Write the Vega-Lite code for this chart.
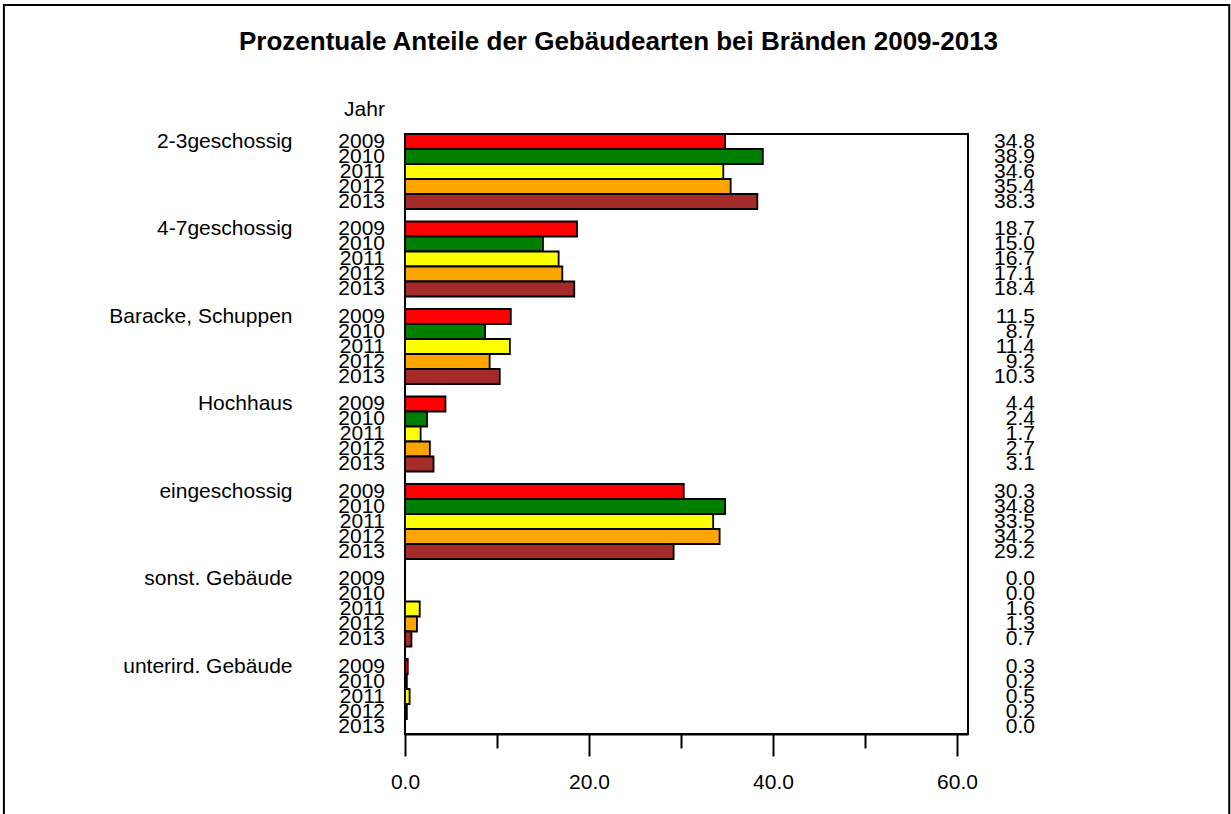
{
  "$schema": "https://vega.github.io/schema/vega-lite/v6.json",
  "autosize": {"type": "none"},
  "padding": {"left": 405, "top": 134, "right": 263, "bottom": 80},
  "width": 563,
  "height": 600,
  "background": "white",
  "config": {
    "font": "Liberation Sans",
    "view": {"stroke": "black", "strokeWidth": 2},
    "text": {"font": "Liberation Sans"}
  },
  "title": {
    "text": "Prozentuale Anteile der Gebäudearten bei Bränden 2009-2013",
    "font": "Liberation Sans",
    "fontSize": 26,
    "fontWeight": "bold",
    "color": "black",
    "anchor": "middle",
    "frame": "group",
    "baseline": "middle",
    "dx": -68,
    "offset": -64
  },
  "datasets": {
    "main": [
      {"g": "2-3geschossig", "year": "2009", "v": 34.8},
      {"g": "2-3geschossig", "year": "2010", "v": 38.9},
      {"g": "2-3geschossig", "year": "2011", "v": 34.6},
      {"g": "2-3geschossig", "year": "2012", "v": 35.4},
      {"g": "2-3geschossig", "year": "2013", "v": 38.3},
      {"g": "4-7geschossig", "year": "2009", "v": 18.7},
      {"g": "4-7geschossig", "year": "2010", "v": 15.0},
      {"g": "4-7geschossig", "year": "2011", "v": 16.7},
      {"g": "4-7geschossig", "year": "2012", "v": 17.1},
      {"g": "4-7geschossig", "year": "2013", "v": 18.4},
      {"g": "Baracke, Schuppen", "year": "2009", "v": 11.5},
      {"g": "Baracke, Schuppen", "year": "2010", "v": 8.7},
      {"g": "Baracke, Schuppen", "year": "2011", "v": 11.4},
      {"g": "Baracke, Schuppen", "year": "2012", "v": 9.2},
      {"g": "Baracke, Schuppen", "year": "2013", "v": 10.3},
      {"g": "Hochhaus", "year": "2009", "v": 4.4},
      {"g": "Hochhaus", "year": "2010", "v": 2.4},
      {"g": "Hochhaus", "year": "2011", "v": 1.7},
      {"g": "Hochhaus", "year": "2012", "v": 2.7},
      {"g": "Hochhaus", "year": "2013", "v": 3.1},
      {"g": "eingeschossig", "year": "2009", "v": 30.3},
      {"g": "eingeschossig", "year": "2010", "v": 34.8},
      {"g": "eingeschossig", "year": "2011", "v": 33.5},
      {"g": "eingeschossig", "year": "2012", "v": 34.2},
      {"g": "eingeschossig", "year": "2013", "v": 29.2},
      {"g": "sonst. Gebäude", "year": "2009", "v": 0.0},
      {"g": "sonst. Gebäude", "year": "2010", "v": 0.0},
      {"g": "sonst. Gebäude", "year": "2011", "v": 1.6},
      {"g": "sonst. Gebäude", "year": "2012", "v": 1.3},
      {"g": "sonst. Gebäude", "year": "2013", "v": 0.7},
      {"g": "unterird. Gebäude", "year": "2009", "v": 0.3},
      {"g": "unterird. Gebäude", "year": "2010", "v": 0.2},
      {"g": "unterird. Gebäude", "year": "2011", "v": 0.5},
      {"g": "unterird. Gebäude", "year": "2012", "v": 0.2},
      {"g": "unterird. Gebäude", "year": "2013", "v": 0.0}
    ]
  },
  "resolve": {"scale": {"y": "independent"}},
  "layer": [
    {
      "data": {"values": [{"frame": "outer"}]},
      "mark": {"type": "rect", "fill": null, "stroke": "black", "strokeWidth": 2},
      "encoding": {
        "x": {"datum": -43.6, "type": "quantitative", "scale": {"domain": [0, 61.2], "nice": false, "zero": false}},
        "x2": {"datum": 89.6},
        "y": {"datum": 729, "type": "quantitative", "scale": {"domain": [0, 600], "nice": false, "zero": false}, "axis": null},
        "y2": {"datum": -90}
      }
    },
    {
      "data": {"name": "main"},
      "layer": [
        {
          "mark": {"type": "bar", "stroke": "black", "strokeWidth": 1.8},
          "encoding": {
            "x": {
              "field": "v", "type": "quantitative",
              "scale": {"domain": [0, 61.2], "nice": false, "zero": false},
              "axis": {
                "values": [0, 10, 20, 30, 40, 50, 60],
                "labelExpr": "datum.value % 20 === 0 ? format(datum.value, '.1f') : ''",
                "tickSize": {"condition": {"test": "datum.value % 20 === 0", "value": 22}, "value": 14},
                "tickWidth": 2,
                "tickColor": "black",
                "domainColor": "black",
                "domainWidth": 2,
                "labelFontSize": 21,
                "labelColor": "black",
                "labelPadding": 15,
                "labelFlush": false,
                "labelOverlap": false,
                "grid": false,
                "title": null
              }
            },
            "y": {
              "field": "g", "type": "nominal",
              "sort": ["2-3geschossig", "4-7geschossig", "Baracke, Schuppen", "Hochhaus", "eingeschossig", "sonst. Gebäude", "unterird. Gebäude"],
              "scale": {"paddingInner": 0.142857, "paddingOuter": 0},
              "axis": {
                "title": "Jahr", "titleAngle": 0, "titleX": -41, "titleY": -25,
                "titleAlign": "center", "titleBaseline": "middle",
                "titleFontSize": 21, "titleFontWeight": "normal", "titleColor": "black",
                "labelFontSize": 21, "labelColor": "black", "labelOffset": -30,
                "labelPadding": 113, "ticks": false, "domain": false,
                "labelAlign": "right", "labelBaseline": "middle", "labelLimit": 300
              }
            },
            "yOffset": {"field": "year", "type": "nominal", "scale": {"paddingInner": 0, "paddingOuter": 0}},
            "color": {
              "field": "year", "type": "nominal",
              "scale": {"domain": ["2009", "2010", "2011", "2012", "2013"], "range": ["#ff0000", "#008000", "#ffff00", "#ffa500", "#a52a2a"]},
              "legend": null
            }
          }
        },
        {
          "mark": {"type": "text", "align": "right", "baseline": "middle", "fontSize": 21, "color": "black"},
          "encoding": {
            "x": {"datum": -2.17, "type": "quantitative"},
            "y": {"field": "g", "type": "nominal", "sort": ["2-3geschossig", "4-7geschossig", "Baracke, Schuppen", "Hochhaus", "eingeschossig", "sonst. Gebäude", "unterird. Gebäude"]},
            "yOffset": {"field": "year", "type": "nominal"},
            "text": {"field": "year"}
          }
        },
        {
          "mark": {"type": "text", "align": "right", "baseline": "middle", "fontSize": 21, "color": "black"},
          "encoding": {
            "x": {"datum": 68.48, "type": "quantitative"},
            "y": {"field": "g", "type": "nominal", "sort": ["2-3geschossig", "4-7geschossig", "Baracke, Schuppen", "Hochhaus", "eingeschossig", "sonst. Gebäude", "unterird. Gebäude"]},
            "yOffset": {"field": "year", "type": "nominal"},
            "text": {"field": "v", "format": ".1f"}
          }
        }
      ]
    }
  ]
}
